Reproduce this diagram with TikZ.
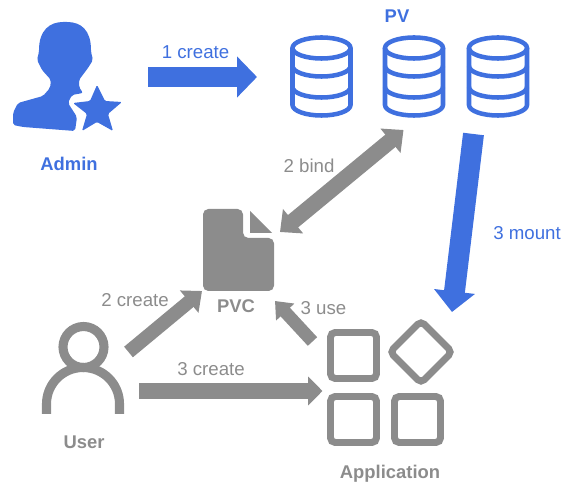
\documentclass[tikz,border=0pt]{standalone}
\usepackage{fontspec}
\setmainfont{Liberation Sans}
\usepackage{xcolor}
\usepackage{tikz}
\usetikzlibrary{arrows.meta}
\definecolor{PvBlue}{HTML}{3F70DF}
\definecolor{PvcGray}{HTML}{8C8C8C}
\tikzset{
  bluelabel/.style={text=PvBlue, font=\fontsize{14pt}{16pt}\selectfont, inner sep=0pt},
  graylabel/.style={text=PvcGray, font=\fontsize{14pt}{16pt}\selectfont, inner sep=0pt},
  bluename/.style={text=PvBlue, font=\fontsize{13.8pt}{16pt}\selectfont\bfseries, inner sep=0pt},
  grayname/.style={text=PvcGray, font=\fontsize{13.8pt}{16pt}\selectfont\bfseries, inner sep=0pt},
  disk/.style={draw=PvBlue, line width=3.4pt},
  appbox/.style={draw=PvcGray, line width=5.2pt, rounded corners=3.5pt},
  userline/.style={draw=PvcGray, line width=6.8pt},
  blockblue/.style={draw=PvBlue, line width=#1},
  blockgray/.style={draw=PvcGray, line width=#1}
}
\begin{document}
\begin{tikzpicture}[x=0.75pt,y=-0.75pt]
  \useasboundingbox (0,0) rectangle (564,484);
  % admin
  \fill[PvBlue, rounded corners=1.5pt] (13,125) -- (13,113) -- (18,103) -- (43,96) -- (50,88) -- (51,80)
    -- (42,70) -- (37,60) -- (39,52) .. controls (39,30) and (50,22) .. (65,22)
    .. controls (81,22) and (91,30) .. (91,52) -- (93,60) -- (88,68) -- (79,80) -- (79,87) -- (83,93)
    -- (72,95) -- (68,103) -- (77,117) -- (75,131) -- (23,127) -- cycle;
  \fill[PvBlue, rounded corners=1pt] (97,85) -- (105,101) -- (122,102) -- (108,114) -- (113,131)
    -- (97,122) -- (82,131) -- (87,114) -- (73,103) -- (90,101) -- cycle;
  % disks
  \foreach \cx in {321.5,414,498} {
    \draw[disk] (\cx,48) ellipse (29 and 10.5);
    \draw[disk] (\cx-29,48) -- (\cx-29,105) arc (180:0:29 and 10.5) -- (\cx+29,48);
    \draw[disk] (\cx-29,66) arc (180:0:29 and 10.5);
    \draw[disk] (\cx-29,87) arc (180:0:29 and 10.5);
  }
  % pvc file
  \fill[PvcGray, rounded corners=4pt] (203,209) -- (243,209) -- (243,238) -- (274,238) -- (274,291) -- (203,291) -- cycle;
  \fill[PvcGray] (250,211) -- (272,233) -- (250,233) -- cycle;
  % user
  \draw[userline] (83.5,347) circle (20.5);
  \draw[userline] (46.5,414) -- (46.5,404) arc (180:360:36.5) -- (119.5,414);
  % application
  \draw[appbox] (330.5,332.5) rectangle (376.5,378.5);
  \draw[appbox] (330.5,396.5) rectangle (376.5,442.5);
  \draw[appbox] (394.5,396.5) rectangle (440.5,442.5);
  \draw[appbox] (421,321) -- (452,352) -- (421,383) -- (390,352) -- cycle;
  % labels
  \node[bluename] (admin) at (69,164) {Admin};
  \node[bluename] (pv) at (397,16) {PV};
  \node[grayname] (pvc) at (236,306) {PVC};
  \node[grayname] (user) at (84,442) {User};
  \node[grayname] (application) at (390,474) {Application};
  \node[bluelabel] (createone) at (195.5,52) {1 create};
  \node[bluelabel] (mount) at (527,233) {3 mount};
  \node[graylabel] (bind) at (309,166) {2 bind};
  \node[graylabel] (createtwo) at (135,300) {2 create};
  \node[graylabel] (use) at (323.5,308) {3 use};
  \node[graylabel] (createthree) at (211,369) {3 create};
  % arrow ends
  \coordinate (a1) at (148,77);
  \coordinate (a2) at (257,77);
  \coordinate (b1) at (403.5,130);
  \coordinate (b2) at (280,232);
  \coordinate (m1) at (473.5,134);
  \coordinate (m2) at (452,312);
  \coordinate (c1) at (128.5,352);
  \coordinate (c2) at (202,291);
  \coordinate (d1) at (139,391);
  \coordinate (d2) at (322.5,391);
  \coordinate (u1) at (312.5,341.5);
  \coordinate (u2) at (275,301);
  \draw[blockblue=15pt, -{Triangle[length=15pt,width=30pt]}] (a1) -- (a2);
  \draw[blockblue=15.7pt, -{Triangle[length=15.5pt,width=30pt]}] (m1) -- (m2);
  \draw[blockgray=12pt, {Triangle[length=12.7pt,width=23pt]}-{Triangle[length=12.7pt,width=23pt]}] (b1) -- (b2);
  \draw[blockgray=10.3pt, -{Triangle[length=12.5pt,width=21pt]}] (c1) -- (c2);
  \draw[blockgray=11.7pt, -{Triangle[length=10.7pt,width=21pt]}] (d1) -- (d2);
  \draw[blockgray=9.5pt, -{Triangle[length=11.3pt,width=18pt]}] (u1) -- (u2);
\end{tikzpicture}
\end{document}
